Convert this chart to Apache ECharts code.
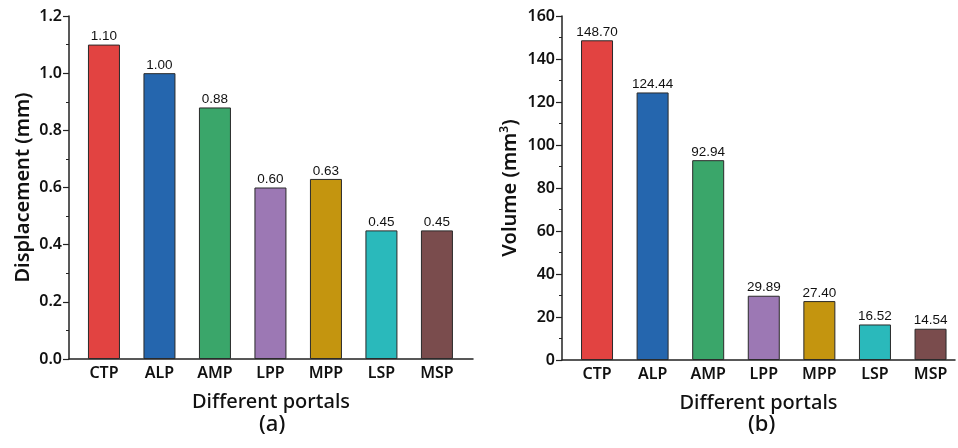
<!DOCTYPE html>
<html><head><meta charset="utf-8">
<script src="https://cdn.jsdelivr.net/npm/echarts@6/dist/echarts.min.js"></script>
<style>html,body{margin:0;padding:0;background:#fff}#c{width:958px;height:448px}</style>
</head><body><div id="c"></div>
<script>
var categories = ['CTP','ALP','AMP','LPP','MPP','LSP','MSP'];
var displacement = [1.10, 1.00, 0.88, 0.60, 0.63, 0.45, 0.45];
var volume = [148.70, 124.44, 92.94, 29.89, 27.40, 16.52, 14.54];
var barColors = ['#E24341','#2566AE','#3AA66A','#9C78B4','#C4950F','#2AB9BB','#7A4C4D'];
var dispTicks = [0, 0.2, 0.4, 0.6, 0.8, 1.0, 1.2];
var volTicks = [0, 20, 40, 60, 80, 100, 120, 140, 160];

var FONT = '"Liberation Sans", Arial, sans-serif';
var AFONT = '"Noto Sans", "Open Sans", sans-serif';
var AW = 600;
var NW = 500;
var AXC = '#222';

function mkData(vals){
  return vals.map(function(v,i){
    return {value:[i+1, v], itemStyle:{color:barColors[i]}};
  });
}
function xAxisCfg(gi, max){
  return {
    type:'value', gridIndex:gi, min:0.37, max:max,
    axisLine:{show:true, onZero:false, lineStyle:{color:AXC, width:1.5}},
    axisTick:{show:false}, splitLine:{show:false},
    axisLabel:{customValues:[1,2,3,4,5,6,7], formatter:function(v){return categories[Math.round(v)-1]||'';},
      color:'#111', fontSize:16, fontFamily:AFONT, fontWeight:AW, margin:6},
    name:'Different portals', nameLocation:'middle', nameGap:33,
    nameTextStyle:{color:'#111', fontSize:20, fontFamily:AFONT, fontWeight:NW}
  };
}
function yAxisCfg(gi, max, interval, dec, name, gap, rich){
  return {
    type:'value', gridIndex:gi, min:0, max:max, interval:interval,
    axisLine:{show:true, lineStyle:{color:AXC, width:1.5}},
    axisTick:{show:true, inside:false, length:6, lineStyle:{color:AXC, width:1.2}},
    minorTick:{show:true, splitNumber:2, length:3, lineStyle:{color:AXC, width:1}},
    splitLine:{show:false},
    axisLabel:{formatter:function(v){return v.toFixed(dec);}, color:'#111', fontSize:16, fontFamily:AFONT, fontWeight:AW, margin:7},
    name:name, nameLocation:'middle', nameGap:gap,
    nameTextStyle:{color:'#111', fontSize:20, fontFamily:AFONT, fontWeight:AW, rich:rich}
  };
}
function seriesCfg(gi, vals){
  return {
    type:'bar', xAxisIndex:gi, yAxisIndex:gi, data:mkData(vals), barWidth:32,
    itemStyle:{borderColor:'#2a2a2a', borderWidth:1},
    label:{show:true, position:'top', distance:1, color:'#111', fontSize:13.5, fontFamily:FONT,
      formatter:function(p){return p.value[1].toFixed(2);}},
    animation:false
  };
}
var chart = echarts.init(document.getElementById('c'), null, {renderer:'canvas'});
chart.setOption({
  animation:false,
  grid:[
    {left:69, right:485, top:16, bottom:89},
    {left:562, right:3, top:16, bottom:88}
  ],
  xAxis:[xAxisCfg(0, 7.65), xAxisCfg(1, 7.44)],
  yAxis:[
    yAxisCfg(0, 1.2, 0.2, 1, 'Displacement (mm)', 36, null),
    yAxisCfg(1, 160, 20, 0, 'Volume (mm{sup|3})', 41, {sup:{fontSize:12, fontWeight:AW, verticalAlign:'top', padding:[0,0,10,0], fontFamily:AFONT, color:'#111'}})
  ],
  series:[seriesCfg(0, displacement), seriesCfg(1, volume)],
  graphic:[
    {type:'text', left:259, top:414, style:{text:'(a)', fontSize:22, fontFamily:AFONT, fontWeight:NW, fill:'#111'}},
    {type:'text', left:748, top:414, style:{text:'(b)', fontSize:22, fontFamily:AFONT, fontWeight:NW, fill:'#111'}}
  ]
});
</script></body></html>
